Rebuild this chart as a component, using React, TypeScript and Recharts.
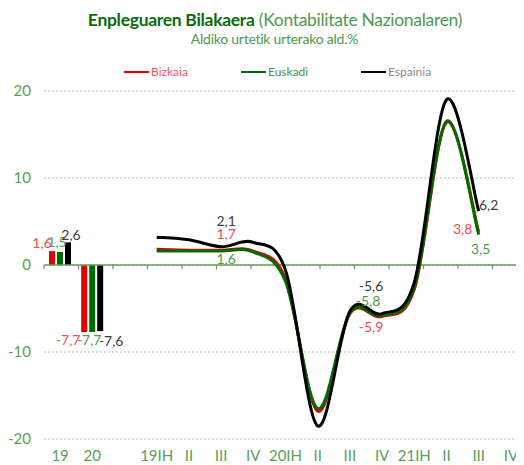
import React from 'react';
import { ComposedChart, Bar, Line, XAxis, YAxis, CartesianGrid, ReferenceLine, LabelList } from 'recharts';

// ---- data ----
const categories = ['19', '20', '', '19IH', 'II', 'III', 'IV', '20IH', 'II', 'III', 'IV', '21IH', 'II', 'III', 'IV'];
const annualBizkaia = [1.6, -7.7];
const annualEuskadi = [1.5, -7.7];
const annualEspainia = [2.6, -7.6];
const quarterBizkaia = [1.8, 1.7, 1.7, 1.6, -1.6, -16.8, -5.6, -5.9, -2.8, 16.4, 3.8];
const quarterEuskadi = [1.6, 1.6, 1.6, 1.5, -1.9, -16.5, -5.5, -5.8, -2.6, 16.5, 3.5];
const quarterEspainia = [3.2, 2.9, 2.1, 2.6, -0.6, -18.5, -5.3, -5.6, -2.0, 19.0, 6.2];
const yTicks = [-20, -10, 0, 10, 20];
const labelledQuarters = [2, 7, 10];

const QUARTER_START = 3;

const data = categories.map((c, i) => {
  const q = i - QUARTER_START;
  const inQ = q >= 0 && q < quarterBizkaia.length;
  return {
    key: i,
    cat: c,
    aBiz: i < annualBizkaia.length ? annualBizkaia[i] : null,
    aEus: i < annualEuskadi.length ? annualEuskadi[i] : null,
    aEsp: i < annualEspainia.length ? annualEspainia[i] : null,
    qBiz: inQ ? quarterBizkaia[q] : null,
    qEus: inQ ? quarterEuskadi[q] : null,
    qEsp: inQ ? quarterEspainia[q] : null,
    lab: inQ && labelledQuarters.includes(q),
  };
});
const boundaries = Array.from({ length: categories.length + 1 }, (_, i) => i);

// ---- styles ----
const RED = '#e00000';
const GREEN = '#006a00';
const BLACK = '#000000';
const RED_T = '#f05050';
const GREEN_T = '#4f9a4f';
const BLACK_T = '#404040';
const AXIS_T = '#5a9e5a';
const FONT = 'Lato, "Open Sans", sans-serif';

// label offsets (dx, dy) from the point / bar end
const lineOffsets: Record<string, Record<number, [number, number]>> = {
  qEsp: { 5: [5, -26], 10: [-11, -28], 13: [10, -7] },
  qBiz: { 5: [5, -17], 10: [-11, 10], 13: [-16, -3] },
  qEus: { 5: [5, 7], 10: [-14, -15], 13: [2, 14] },
};
const barOffsets: Record<string, Record<number, [number, number]>> = {
  aBiz: { 0: [-10, -9], 1: [-16, 8] },
  aEus: { 0: [-3, -10], 1: [-3, 8] },
  aEsp: { 0: [3, -8], 1: [11, 9] },
};

const fmt = (v: number) => String(v).replace('.', ',');

// Catmull-Rom style smoothing (similar to spreadsheet smoothed lines)
const smooth = (context: any) => {
  let pts: number[][] = [];
  return {
    areaStart() {},
    areaEnd() {},
    lineStart() {
      pts = [];
    },
    point(x: number, y: number) {
      pts.push([+x, +y]);
    },
    lineEnd() {
      const n = pts.length;
      if (!n) return;
      context.moveTo(pts[0][0], pts[0][1]);
      for (let i = 0; i < n - 1; i++) {
        const p0 = pts[i - 1] || pts[i];
        const p1 = pts[i];
        const p2 = pts[i + 1];
        const p3 = pts[i + 2] || p2;
        context.bezierCurveTo(
          p1[0] + (p2[0] - p0[0]) / 6,
          p1[1] + (p2[1] - p0[1]) / 6,
          p2[0] - (p3[0] - p1[0]) / 6,
          p2[1] - (p3[1] - p1[1]) / 6,
          p2[0],
          p2[1]
        );
      }
    },
  };
};

const makeLineLabel = (key: string, color: string) => (props: any) => {
  const { x, y, value, index } = props;
  const off = lineOffsets[key][index];
  if (!off || value == null || !data[index] || !data[index].lab) return null;
  return (
    <text x={x + off[0]} y={y + off[1]} fill={color} fontSize={14} fontFamily={FONT} textAnchor="middle" dominantBaseline="central">
      {fmt(value)}
    </text>
  );
};

const makeBarLabel = (key: string, color: string) => (props: any) => {
  const { x, y, width, height, value, index } = props;
  const off = barOffsets[key][index];
  if (!off || value == null) return null;
  const cx = x + width / 2;
  const endY = value >= 0 ? Math.min(y, y + height) : Math.max(y, y + height);
  return (
    <text x={cx + off[0]} y={endY + off[1]} fill={color} fontSize={14} fontFamily={FONT} textAnchor="middle" dominantBaseline="central">
      {fmt(value)}
    </text>
  );
};

const legendItems = [
  { name: 'Bizkaia', color: RED, text: '#ee5a5a', left: 116 },
  { name: 'Euskadi', color: GREEN, text: '#4f8f4f', left: 233 },
  { name: 'Espainia', color: BLACK, text: '#8a8a8a', left: 353 },
];

export default function App() {
  return (
    <div style={{ position: 'relative', width: 516, height: 457, overflow: 'hidden', fontFamily: FONT }}>
      <div style={{ position: 'absolute', top: 2, left: 0, width: 534, textAlign: 'center', fontSize: 17.5, lineHeight: '20px', letterSpacing: -0.3, whiteSpace: 'nowrap' }}>
        <span style={{ fontWeight: 700, color: '#0b6b0b' }}>Enpleguaren Bilakaera</span>
        <span style={{ color: '#4f9a4f' }}> (Kontabilitate Nazionalaren)</span>
      </div>
      <div style={{ position: 'absolute', top: 23, left: 0, width: 533, textAlign: 'center', fontSize: 14, lineHeight: '16px', letterSpacing: -0.25, color: '#4f9a4f', whiteSpace: 'nowrap' }}>
        Aldiko urtetik urterako ald.%
      </div>
      {legendItems.map((it) => (
        <div key={it.name} style={{ position: 'absolute', top: 57, left: it.left, display: 'flex', alignItems: 'center', fontSize: 12, lineHeight: '14px', color: it.text, whiteSpace: 'nowrap' }}>
          <span style={{ display: 'inline-block', width: 25, height: 2, background: it.color, marginRight: 2 }} />
          <span>{it.name}</span>
        </div>
      ))}
      <div style={{ position: 'absolute', top: 0, left: 0 }}>
        <ComposedChart
          width={539}
          height={457}
          data={data}
          margin={{ top: 83, right: 20, bottom: 0, left: 0 }}
          barSize={6}
          barGap={2}
        >
          <CartesianGrid vertical={false} horizontal stroke="#9fd09f" strokeDasharray="2 2" />
          <XAxis
            dataKey="key"
            type="category"
            tickFormatter={(v: any) => categories[v]}
            interval={0}
            axisLine={false}
            tickLine={false}
            tickSize={0}
            tickMargin={11}
            height={26}
            tick={{ fill: AXIS_T, fontSize: 15, fontFamily: FONT }}
          />
          <XAxis xAxisId="n" type="number" domain={[0, categories.length]} hide />
          <YAxis
            domain={[-20, 20]}
            ticks={yTicks}
            width={36}
            axisLine={false}
            tickLine={false}
            tickSize={0}
            tickMargin={13}
            tick={{ fill: AXIS_T, fontSize: 15, fontFamily: FONT }}
          />
          <ReferenceLine y={0} stroke="#5f9f5f" strokeWidth={1.5} />
          {boundaries.map((b) => (
            <ReferenceLine
              key={'t' + b}
              xAxisId="n"
              segment={[{ x: b, y: 0 }, { x: b, y: -0.5 }]}
              stroke="#5f9f5f"
              strokeWidth={1.2}
            />
          ))}
          <Bar dataKey="aBiz" fill={RED} isAnimationActive={false}>
            <LabelList dataKey="aBiz" content={makeBarLabel('aBiz', RED_T)} />
          </Bar>
          <Bar dataKey="aEus" fill={GREEN} isAnimationActive={false}>
            <LabelList dataKey="aEus" content={makeBarLabel('aEus', GREEN_T)} />
          </Bar>
          <Bar dataKey="aEsp" fill={BLACK} isAnimationActive={false}>
            <LabelList dataKey="aEsp" content={makeBarLabel('aEsp', BLACK_T)} />
          </Bar>
          <Line dataKey="qBiz" type={smooth as any} stroke={RED} strokeWidth={3} dot={false} activeDot={false} isAnimationActive={false}>
            <LabelList dataKey="qBiz" content={makeLineLabel('qBiz', RED_T)} />
          </Line>
          <Line dataKey="qEus" type={smooth as any} stroke={GREEN} strokeWidth={3} dot={false} activeDot={false} isAnimationActive={false}>
            <LabelList dataKey="qEus" content={makeLineLabel('qEus', GREEN_T)} />
          </Line>
          <Line dataKey="qEsp" type={smooth as any} stroke={BLACK} strokeWidth={3} dot={false} activeDot={false} isAnimationActive={false}>
            <LabelList dataKey="qEsp" content={makeLineLabel('qEsp', BLACK_T)} />
          </Line>
        </ComposedChart>
      </div>
    </div>
  );
}
